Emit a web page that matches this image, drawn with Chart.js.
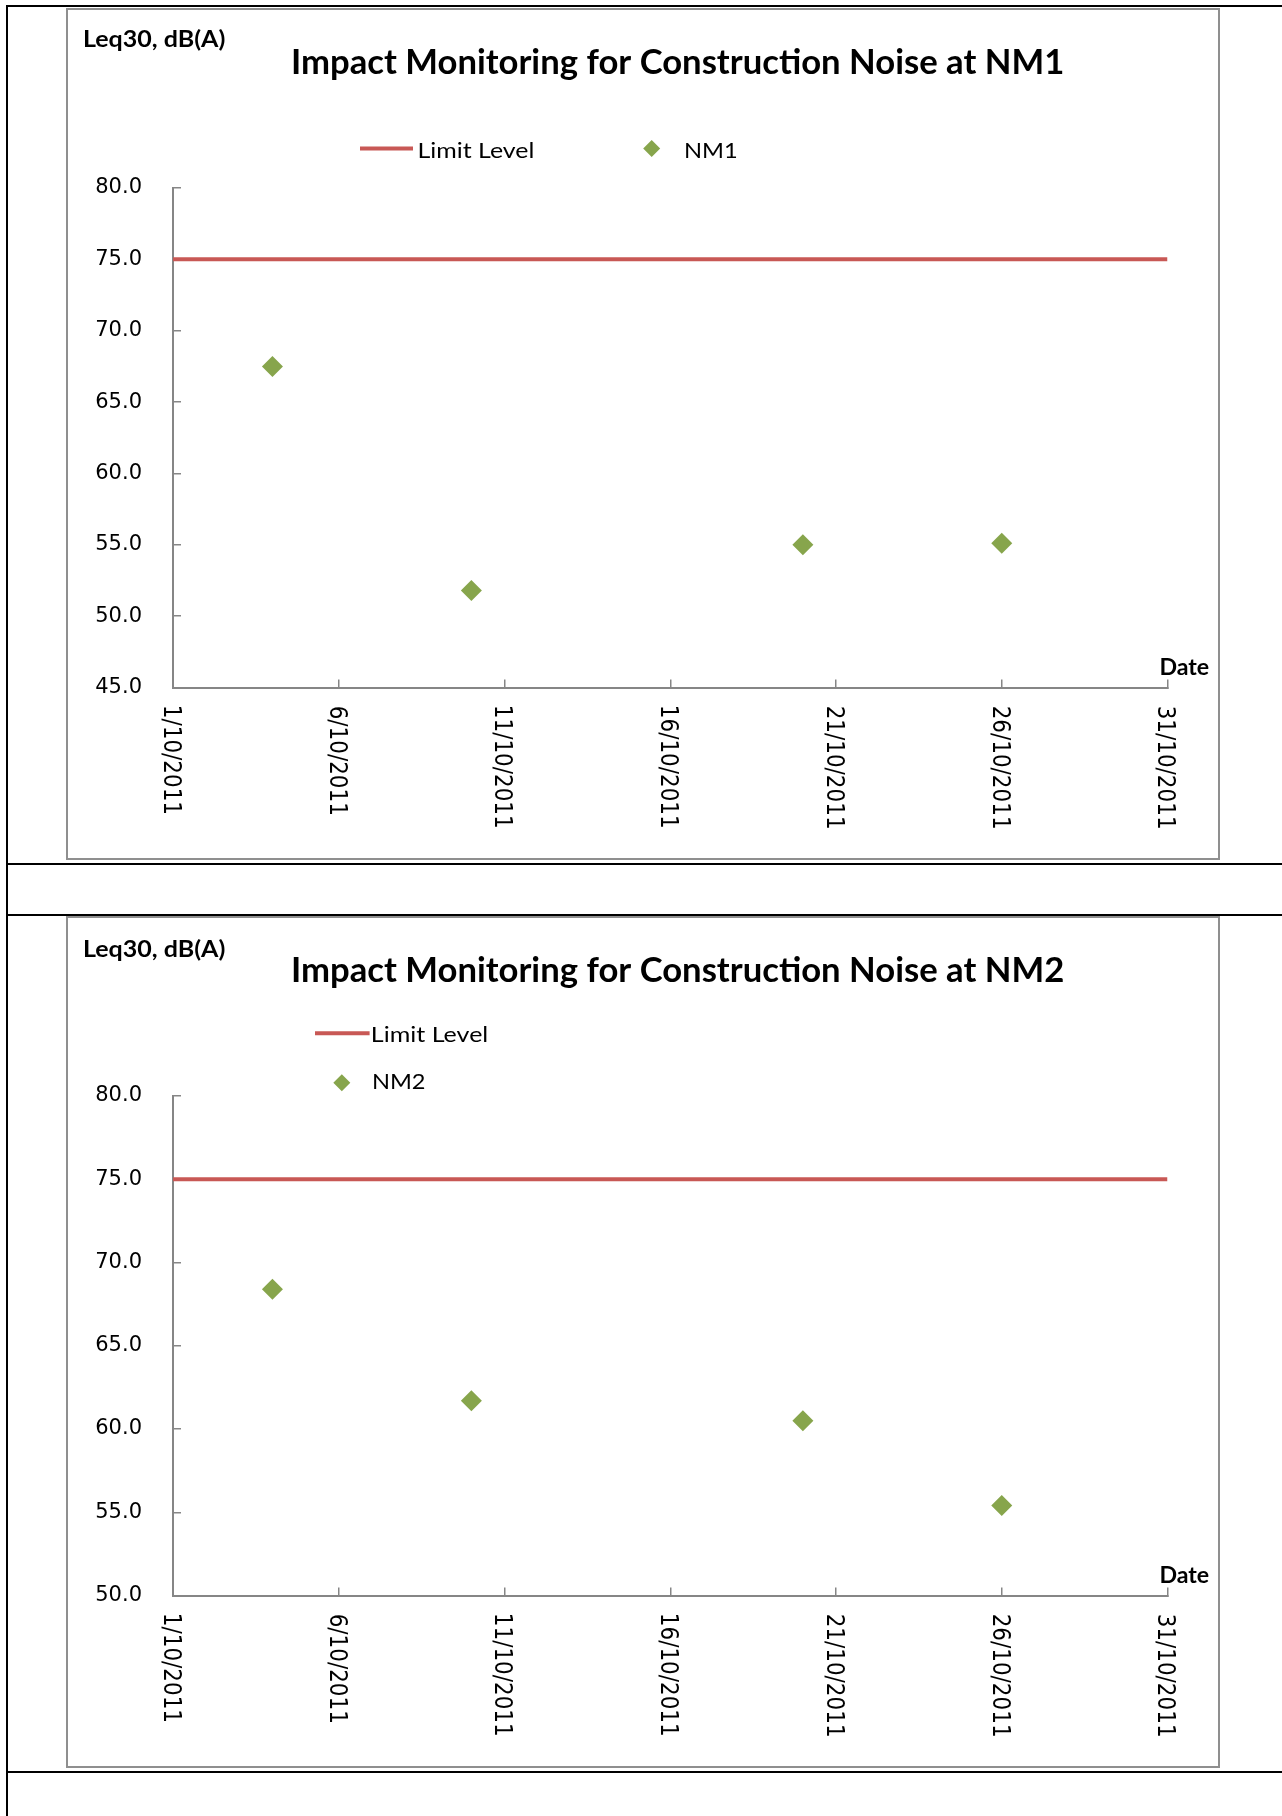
<!DOCTYPE html>
<html>
<head>
<meta charset="utf-8">
<script src="https://cdn.jsdelivr.net/npm/chart.js@4.4.1/dist/chart.umd.min.js"></script>
<style>
html,body{margin:0;padding:0;background:#fff;}
body{width:1282px;height:1816px;position:relative;overflow:hidden;}
.rule{position:absolute;background:#000;}
.box{position:absolute;border:2px solid #8f8f8f;box-sizing:border-box;background:#fff;}
.box canvas{display:block;}
</style>
</head>
<body>
<div class="rule" style="left:6px;top:5px;width:1276px;height:2px"></div>
<div class="rule" style="left:6px;top:5px;width:2px;height:1811px"></div>
<div class="rule" style="left:6px;top:863px;width:1276px;height:2px"></div>
<div class="rule" style="left:6px;top:914px;width:1276px;height:2px"></div>
<div class="rule" style="left:6px;top:1771px;width:1276px;height:2px"></div>
<div class="box" style="left:66px;top:8px;width:1154px;height:852px"><canvas id="c1" width="1150" height="848"></canvas></div>
<div class="box" style="left:66px;top:916px;width:1154px;height:852px"><canvas id="c2" width="1150" height="848"></canvas></div>
<script>
// ---------- data ----------
const xTickLabels = ['1/10/2011','6/10/2011','11/10/2011','16/10/2011','21/10/2011','26/10/2011','31/10/2011'];
const limitDates = ['1/10/2011','31/10/2011'];
const limitLevel = [75, 75];
const nm1Dates = ['4/10/2011','10/10/2011','20/10/2011','26/10/2011'];
const nm1Values = [67.5, 51.8, 55.0, 55.1];
const nm2Dates = ['4/10/2011','10/10/2011','20/10/2011','26/10/2011'];
const nm2Values = [68.4, 61.7, 60.5, 55.4];
const yTicksNM1 = [45, 50, 55, 60, 65, 70, 75, 80];
const yTicksNM2 = [50, 55, 60, 65, 70, 75, 80];
const titleNM1 = 'Impact Monitoring for Construction Noise at NM1';
const titleNM2 = 'Impact Monitoring for Construction Noise at NM2';
const yAxisTitle = 'Leq30, dB(A)';
const xAxisTitle = 'Date';

// ---------- style ----------
const RED = '#C85855';
const GREEN = '#87A54C';
const AX = '#868686';
const CAL = 'Lato, "Open Sans", sans-serif';

const dayOf = s => Number(s.split('/')[0]);

function fitText(ctx, text, x, y, font, w) {
  ctx.save();
  ctx.font = font;
  ctx.textAlign = 'left';
  ctx.textBaseline = 'alphabetic';
  const m = ctx.measureText(text);
  const ink = m.actualBoundingBoxLeft + m.actualBoundingBoxRight;
  const sx = w ? w / ink : 1;
  ctx.translate(x, y);
  ctx.scale(sx, 1);
  ctx.fillText(text, m.actualBoundingBoxLeft, 0);
  ctx.restore();
}

const overlay = {
  id: 'overlayText',
  afterDraw(chart, args, o) {
    const ctx = chart.ctx;
    const ca = chart.chartArea;
    ctx.save();
    ctx.fillStyle = '#000';
    // titles
    fitText(ctx, o.yTitle, o.yTitlePos[0], o.yTitlePos[1], 'bold 23px ' + CAL, o.yTitlePos[2]);
    fitText(ctx, o.title, o.titlePos[0], o.titlePos[1], 'bold 35px ' + CAL, o.titlePos[2]);
    fitText(ctx, o.xTitle, o.xTitlePos[0], o.xTitlePos[1], 'bold 22px ' + CAL, o.xTitlePos[2]);
    // x tick labels, rotated clockwise
    const xs = chart.scales.x;
    ctx.font = '25px "DejaVu Sans"';
    ctx.textAlign = 'left';
    ctx.textBaseline = 'alphabetic';
    xs.ticks.forEach((t, i) => {
      const label = xTickLabels[i];
      const px = xs.getPixelForValue(t.value);
      const m = ctx.measureText(label);
      ctx.save();
      ctx.translate(px, ca.bottom + 19);
      ctx.rotate(Math.PI / 2);
      ctx.scale(0.86, 1);
      ctx.fillText(label, m.actualBoundingBoxLeft, 9.1);
      ctx.restore();
    });
    // legend from datasets
    o.legend.forEach(it => {
      const ds = chart.data.datasets[it.index];
      if (it.kind === 'line') {
        ctx.strokeStyle = ds.borderColor;
        ctx.lineWidth = 4;
        ctx.beginPath();
        ctx.moveTo(it.x1, it.y);
        ctx.lineTo(it.x2, it.y);
        ctx.stroke();
      } else {
        ctx.fillStyle = ds.backgroundColor;
        ctx.beginPath();
        ctx.moveTo(it.cx - 8.5, it.y);
        ctx.lineTo(it.cx, it.y - 8.5);
        ctx.lineTo(it.cx + 8.5, it.y);
        ctx.lineTo(it.cx, it.y + 8.5);
        ctx.closePath();
        ctx.fill();
      }
      ctx.fillStyle = '#000';
      fitText(ctx, ds.label, it.tx, it.ty, '21.5px ' + CAL, it.tw);
    });
    ctx.restore();
  }
};

function makeChart(id, name, dates, values, yTicks, ov) {
  const limitData = limitDates.map((d, i) => ({x: dayOf(d), y: limitLevel[i]}));
  const seriesData = dates.map((d, i) => ({x: dayOf(d), y: values[i]}));
  return new Chart(document.getElementById(id), {
    type: 'scatter',
    data: {
      datasets: [
        {label: 'Limit Level', data: limitData, showLine: true, borderColor: RED, backgroundColor: RED,
         borderWidth: 4, pointRadius: 0, pointHoverRadius: 0, order: 2},
        {label: name, data: seriesData, showLine: false, pointStyle: 'rectRot', pointRadius: 10.5,
         pointHoverRadius: 10.5, backgroundColor: GREEN, borderColor: GREEN, borderWidth: 0, order: 1}
      ]
    },
    options: {
      responsive: false,
      animation: false,
      events: [],
      layout: {padding: {left: 0, top: 178, right: 50.5, bottom: 70.5}},
      plugins: {
        legend: {display: false},
        title: {display: false},
        tooltip: {enabled: false},
        overlayText: ov
      },
      scales: {
        x: {
          type: 'linear',
          min: dayOf(xTickLabels[0]),
          max: dayOf(xTickLabels[xTickLabels.length - 1]),
          afterBuildTicks: s => { s.ticks = xTickLabels.map(l => ({value: dayOf(l)})); },
          afterFit: s => { s.height = 100; s.paddingLeft = 0; s.paddingRight = 0; },
          ticks: {display: false},
          grid: {drawOnChartArea: false, drawTicks: true, tickLength: -8, color: AX, lineWidth: 1.5},
          border: {display: true, color: AX, width: 2}
        },
        y: {
          min: yTicks[0],
          max: yTicks[yTicks.length - 1],
          afterBuildTicks: s => { s.ticks = yTicks.map(v => ({value: v})); },
          afterFit: s => { s.width = 105; s.paddingTop = 0; s.paddingBottom = 0; },
          ticks: {padding: 39, color: '#000', font: {family: 'DejaVu Sans', size: 21}, callback: v => Number(v).toFixed(1)},
          grid: {drawOnChartArea: false, drawTicks: true, tickLength: -8, color: AX, lineWidth: 1.5},
          border: {display: true, color: AX, width: 2}
        }
      }
    },
    plugins: [overlay]
  });
}

makeChart('c1', 'NM1', nm1Dates, nm1Values, yTicksNM1, {
  title: titleNM1, titlePos: [225, 64, 770],
  yTitle: yAxisTitle, yTitlePos: [16, 36.7, 141],
  xTitle: xAxisTitle, xTitlePos: [1092.5, 665, 49],
  legend: [
    {index: 0, kind: 'line', x1: 292, x2: 345, y: 138.5, tx: 350.6, ty: 148.3, tw: 114.5},
    {index: 1, kind: 'diamond', cx: 583.7, y: 138.5, tx: 617, ty: 148.3, tw: 51}
  ]
});
makeChart('c2', 'NM2', nm2Dates, nm2Values, yTicksNM2, {
  title: titleNM2, titlePos: [225, 63.7, 770],
  yTitle: yAxisTitle, yTitlePos: [16, 38.7, 141],
  xTitle: xAxisTitle, xTitlePos: [1092.5, 665.3, 49],
  legend: [
    {index: 0, kind: 'line', x1: 247, x2: 301.6, y: 115.3, tx: 304, ty: 124, tw: 115},
    {index: 1, kind: 'diamond', cx: 273.8, y: 164.7, tx: 305, ty: 171.3, tw: 52}
  ]
});
</script>
</body>
</html>
